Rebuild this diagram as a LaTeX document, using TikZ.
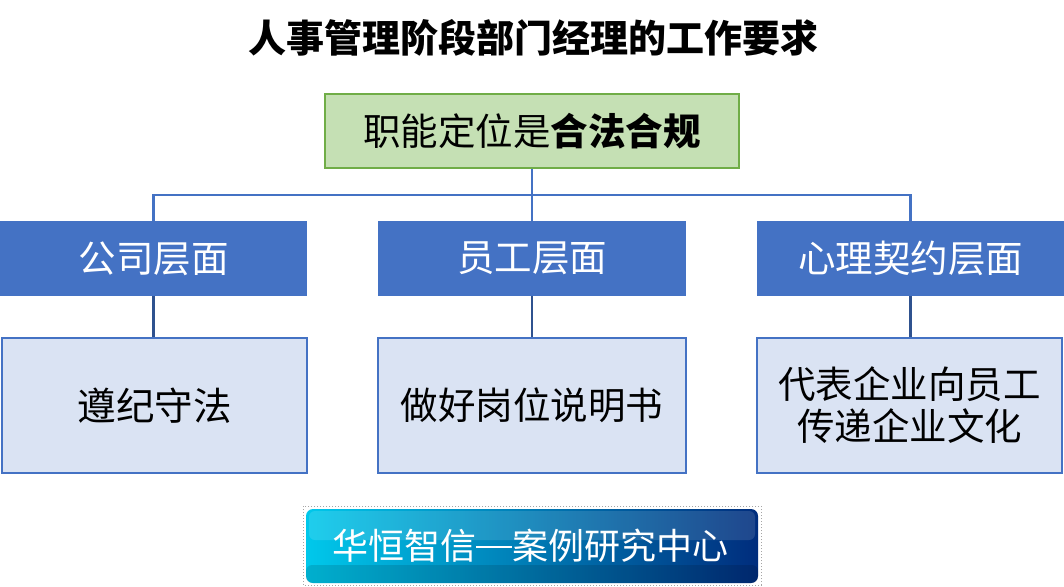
\documentclass[tikz,border=0pt]{standalone}
\usepackage{fontspec}
\setmainfont{Noto Sans CJK SC}
\definecolor{hdr}{HTML}{4472C4}
\definecolor{hdrdark}{HTML}{2F528F}
\definecolor{grfill}{HTML}{C5E0B4}
\definecolor{grline}{HTML}{70AD47}
\definecolor{lbfill}{HTML}{DAE3F3}
\definecolor{logotop}{RGB}{0,200,235}
\definecolor{logobot}{RGB}{0,45,125}
\tikzset{
  txt/.style={font=\fontsize{37.5}{42}\selectfont, inner sep=0pt, align=center},
  topbox/.style={txt, draw=grline, line width=2pt, fill=grfill, minimum width=414pt, minimum height=74pt},
  headbox/.style={txt, fill=hdr, text=white, minimum width=307pt, minimum height=75pt},
  leafbox/.style={txt, draw=hdr, line width=2pt, fill=lbfill, minimum width=305pt, minimum height=135pt},
  link/.style={draw=hdr, line width=2.5pt},
  sublink/.style={draw=hdrdark, line width=2.5pt}
}
\begin{document}
\begin{tikzpicture}[x=1pt,y=-1pt]
\useasboundingbox (0,0) rectangle (1064,586);
\fill[white] (0,0) rectangle (1064,586);

\node[font=\fontsize{38}{44}\selectfont\bfseries, inner sep=0pt] (title) at (533,38) {人事管理阶段部门经理的工作要求};

\node[topbox] (top) at (532,131) {职能定位是\textbf{合法合规}};

\node[headbox] (h1) at (153.5,258.5) {公司层面};
\node[headbox, minimum width=308pt] (h2) at (532,258.5) {员工层面};
\node[headbox] (h3) at (910.5,258.5) {心理契约层面};

\node[leafbox, font=\fontsize{38.5}{42}\selectfont] (l1) at (154.5,405.5) {遵纪守法};
\node[leafbox, minimum width=308pt] (l2) at (532,405.5) {做好岗位说明书};
\node[leafbox] (l3) at (909.5,405.5) {代表企业向员工\\传递企业文化};

\coordinate (hub) at (532,195);
\draw[link] (top.south) -- (hub);
\draw[link] (h1.north) |- (hub) -| (h3.north);
\draw[link] (hub) -- (h2.north);

\draw[sublink] (h1.south) -- (h1.south |- l1.north);
\draw[sublink] (h2.south) -- (h2.south |- l2.north);
\draw[sublink] (h3.south) -- (h3.south |- l3.north);

% logo banner
\draw[gray!70, dotted, line width=1pt] (303,506) rectangle (761,585);
\shade[rounded corners=7pt, left color=logotop, right color=logobot] (306,509) rectangle (758,583);
\fill[white, opacity=0.12, rounded corners=6pt] (309,511) rectangle (755,540);
\fill[black, opacity=0.12, rounded corners=6pt] (306,565) rectangle (758,583);
\node[font=\fontsize{36}{40}\selectfont, text=white, inner sep=0pt] (logo) at (530,546) {华恒智信\rule[0.33em]{1em}{1.6pt}案例研究中心};
\end{tikzpicture}
\end{document}
